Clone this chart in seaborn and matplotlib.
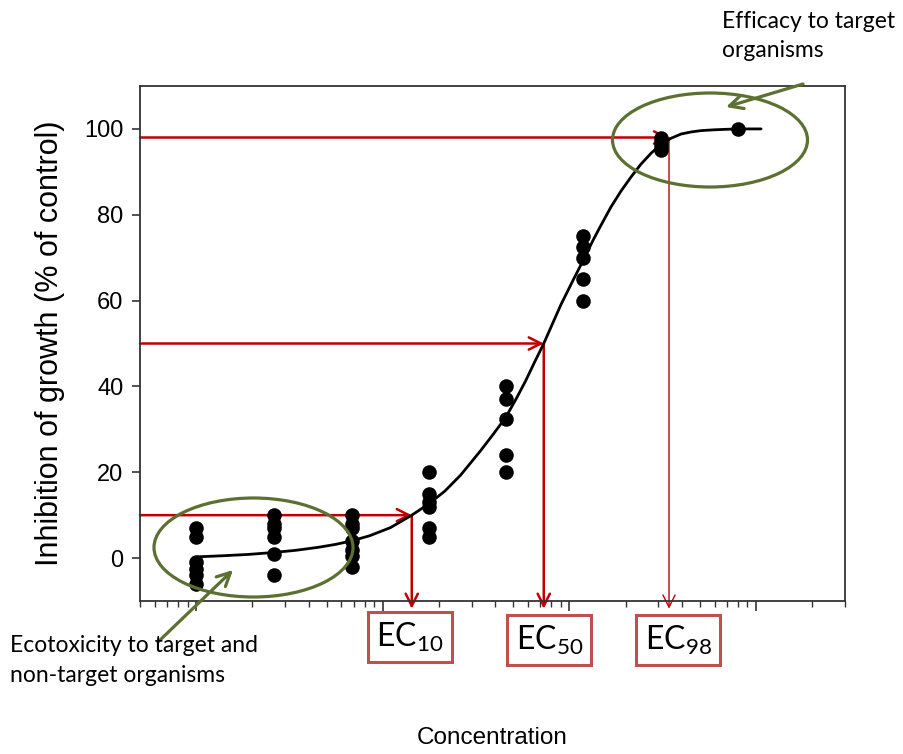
import numpy as np
import pandas as pd
import matplotlib
matplotlib.use("Agg")
import matplotlib.pyplot as plt
import matplotlib.transforms as mtransforms
from matplotlib.patches import Ellipse, Rectangle
from matplotlib.ticker import LogLocator, NullFormatter, FixedLocator
import seaborn as sns

# ---------------- data ----------------
conc_groups = [1.0, 2.6, 6.8, 17.6, 45.6, 119.0, 310.0, 802.0]
resp_groups = [
    [7, 5, -1, -2.5, -4, -6],
    [10, 8, 7, 5, 1, -4],
    [10, 8, 7, 4, 2, 0.5, -2],
    [20, 15, 13, 12, 7, 5],
    [40, 37, 32.5, 24, 20],
    [75, 72.5, 70, 65, 60],
    [98, 97, 96, 95],
    [100],
]
curve_conc = [1.025, 1.4, 1.9, 2.59, 3.4, 4.5, 5.6, 6.8, 8.5, 11.0, 14.3, 17.6,
              21.5, 26.1, 33.4, 39.0, 45.6, 52.0, 58.3, 65.0, 72.9, 81.0, 90.0,
              104.0, 119.0, 133.0, 147.5, 167.0, 189.0, 214.0, 242.0, 275.0,
              310.0, 350.0, 396.0, 450.0, 507.0, 600.0, 735.0, 900.0, 1065.0]
curve_resp = [0.3, 0.55, 0.85, 1.3, 1.8, 2.5, 3.2, 4.0, 5.2, 7.1, 10.0, 12.6,
              15.6, 19.3, 25.0, 28.8, 32.8, 37.2, 41.3, 45.6, 50.0, 54.5, 59.0,
              64.5, 69.5, 73.8, 77.5, 81.8, 85.5, 88.8, 91.8, 94.4,
              96.4, 97.8, 98.8, 99.3, 99.6, 99.8, 99.95, 100.0, 100.0]
ec_labels = ["10", "50", "98"]
ec_levels = [10, 50, 98]
ec_conc = [14.3, 72.9, 342.0]
y_ticks = [0, 20, 40, 60, 80, 100]

pts = pd.DataFrame(
    [(c, r) for c, rs in zip(conc_groups, resp_groups) for r in rs],
    columns=["conc", "resp"],
)
curve = pd.DataFrame({"conc": curve_conc, "resp": curve_resp})

# ---------------- style ----------------
sns.set_theme(style="ticks")
plt.rcParams["font.family"] = ["Liberation Sans", "DejaVu Sans"]
plt.rcParams["mathtext.fontset"] = "custom"
plt.rcParams["mathtext.rm"] = "Lato"
plt.rcParams["mathtext.it"] = "Lato"
plt.rcParams["text.color"] = "black"
plt.rcParams["axes.labelcolor"] = "black"
plt.rcParams["xtick.labelcolor"] = "black"
plt.rcParams["ytick.labelcolor"] = "black"

W, H = 904, 754
fig = plt.figure(figsize=(W / 100, H / 100), dpi=100)
ax_l, ax_r, ax_t, ax_b = 140, 845, 86, 601
ax = fig.add_axes([ax_l / W, 1 - ax_b / H, (ax_r - ax_l) / W, (ax_b - ax_t) / H])

RED = "#c00000"
BOXRED = "#c0504d"
GREEN = "#5b7031"

sns.lineplot(data=curve, x="conc", y="resp", ax=ax, color="black", lw=2.0,
             zorder=3, sort=True, estimator=None)
sns.scatterplot(data=pts, x="conc", y="resp", ax=ax, color="black", s=110,
                edgecolor="black", linewidth=0, zorder=4)

ax.set_xscale("log")
ax.set_xlim(0.5, 3000)
ax.set_ylim(-10, 110)
ax.xaxis.set_major_locator(LogLocator(base=10, numticks=10))
ax.xaxis.set_minor_locator(LogLocator(base=10, subs=np.arange(2, 10), numticks=20))
ax.xaxis.set_major_formatter(NullFormatter())
ax.xaxis.set_minor_formatter(NullFormatter())
ax.yaxis.set_major_locator(FixedLocator(y_ticks))
ax.tick_params(axis="x", which="major", length=7, width=1.2, color="#333333",
               direction="out")
ax.tick_params(axis="x", which="minor", length=4.5, width=1.0, color="#333333",
               direction="out")
ax.tick_params(axis="y", which="major", length=6, width=1.2, color="#333333",
               labelsize=17, pad=6)
for sp in ax.spines.values():
    sp.set_visible(True)
    sp.set_linewidth(1.3)
    sp.set_color("#333333")

ax.set_ylabel("Inhibition of growth (% of control)", fontsize=22, labelpad=14)
ax.set_xlabel("Concentration", fontsize=17.5)
ax.xaxis.set_label_coords(0.499, -0.245)

# ---------------- red EC arrows ----------------
blend = mtransforms.blended_transform_factory(ax.transData, ax.transAxes)
for lvl, ecx in zip(ec_levels, ec_conc):
    ax.annotate("", xy=(ecx, lvl), xytext=(0.5, lvl), xycoords="data",
                textcoords="data",
                arrowprops=dict(arrowstyle="->", color=RED, lw=1.8,
                                shrinkA=0, shrinkB=0, mutation_scale=22),
                zorder=2, annotation_clip=False)
    vlw = 1.0 if lvl == 98 else 1.8
    ax.annotate("", xy=(ecx, -0.015), xycoords=blend, xytext=(ecx, lvl),
                textcoords="data",
                arrowprops=dict(arrowstyle="->", color=RED, lw=vlw,
                                shrinkA=0, shrinkB=0, mutation_scale=22),
                zorder=2, annotation_clip=False)

# EC boxes
box_cx = [410, 549.5, 678.5]
box_cy = [637, 640, 640]
bw, bh = 84, 50
for lab, cx, cy in zip(ec_labels, box_cx, box_cy):
    axx = (cx - ax_l) / (ax_r - ax_l)
    axy = (ax_b - cy) / (ax_b - ax_t)
    ww = bw / (ax_r - ax_l)
    hh = bh / (ax_b - ax_t)
    ax.add_patch(Rectangle((axx - ww / 2, axy - hh / 2), ww, hh,
                           transform=ax.transAxes, fill=True, fc="white",
                           ec=BOXRED, lw=2.2, clip_on=False, zorder=5))
    ax.text(axx, axy, r"$\mathrm{EC}_{\mathrm{%s}}$" % lab, transform=ax.transAxes,
            ha="center", va="center", fontsize=23, color="black", zorder=6)

# ---------------- green ellipses and arrows ----------------
def to_ax(px, py):
    return ((px - ax_l) / (ax_r - ax_l), (ax_b - py) / (ax_b - ax_t))

for (cx, cy, w, h) in [(253.5, 547.5, 199, 99), (710, 140, 195, 94)]:
    c = to_ax(cx, cy)
    ax.add_patch(Ellipse(c, w / (ax_r - ax_l), h / (ax_b - ax_t),
                         transform=ax.transAxes, fill=False, ec=GREEN, lw=2.3,
                         clip_on=False, zorder=6))

for tail, head in [((803, 84), (726, 107)), ((158, 642), (233, 570))]:
    ax.annotate("", xy=to_ax(*head), xycoords="axes fraction",
                xytext=to_ax(*tail), textcoords="axes fraction",
                arrowprops=dict(arrowstyle="->", color=GREEN, lw=2.3,
                                shrinkA=0, shrinkB=0, mutation_scale=24),
                annotation_clip=False, zorder=7)

fig.text(722 / W, 1 - 11 / H, "Efficacy to target\norganisms", ha="left",
         va="top", fontsize=16.5, family=["Lato", "DejaVu Sans"], linespacing=1.45)
fig.text(10 / W, 1 - 635 / H, "Ecotoxicity to target and\nnon-target organisms",
         ha="left", va="top", fontsize=16.5, family=["Lato", "DejaVu Sans"],
         linespacing=1.55)

fig.savefig("out.png", dpi=100, facecolor="white")
